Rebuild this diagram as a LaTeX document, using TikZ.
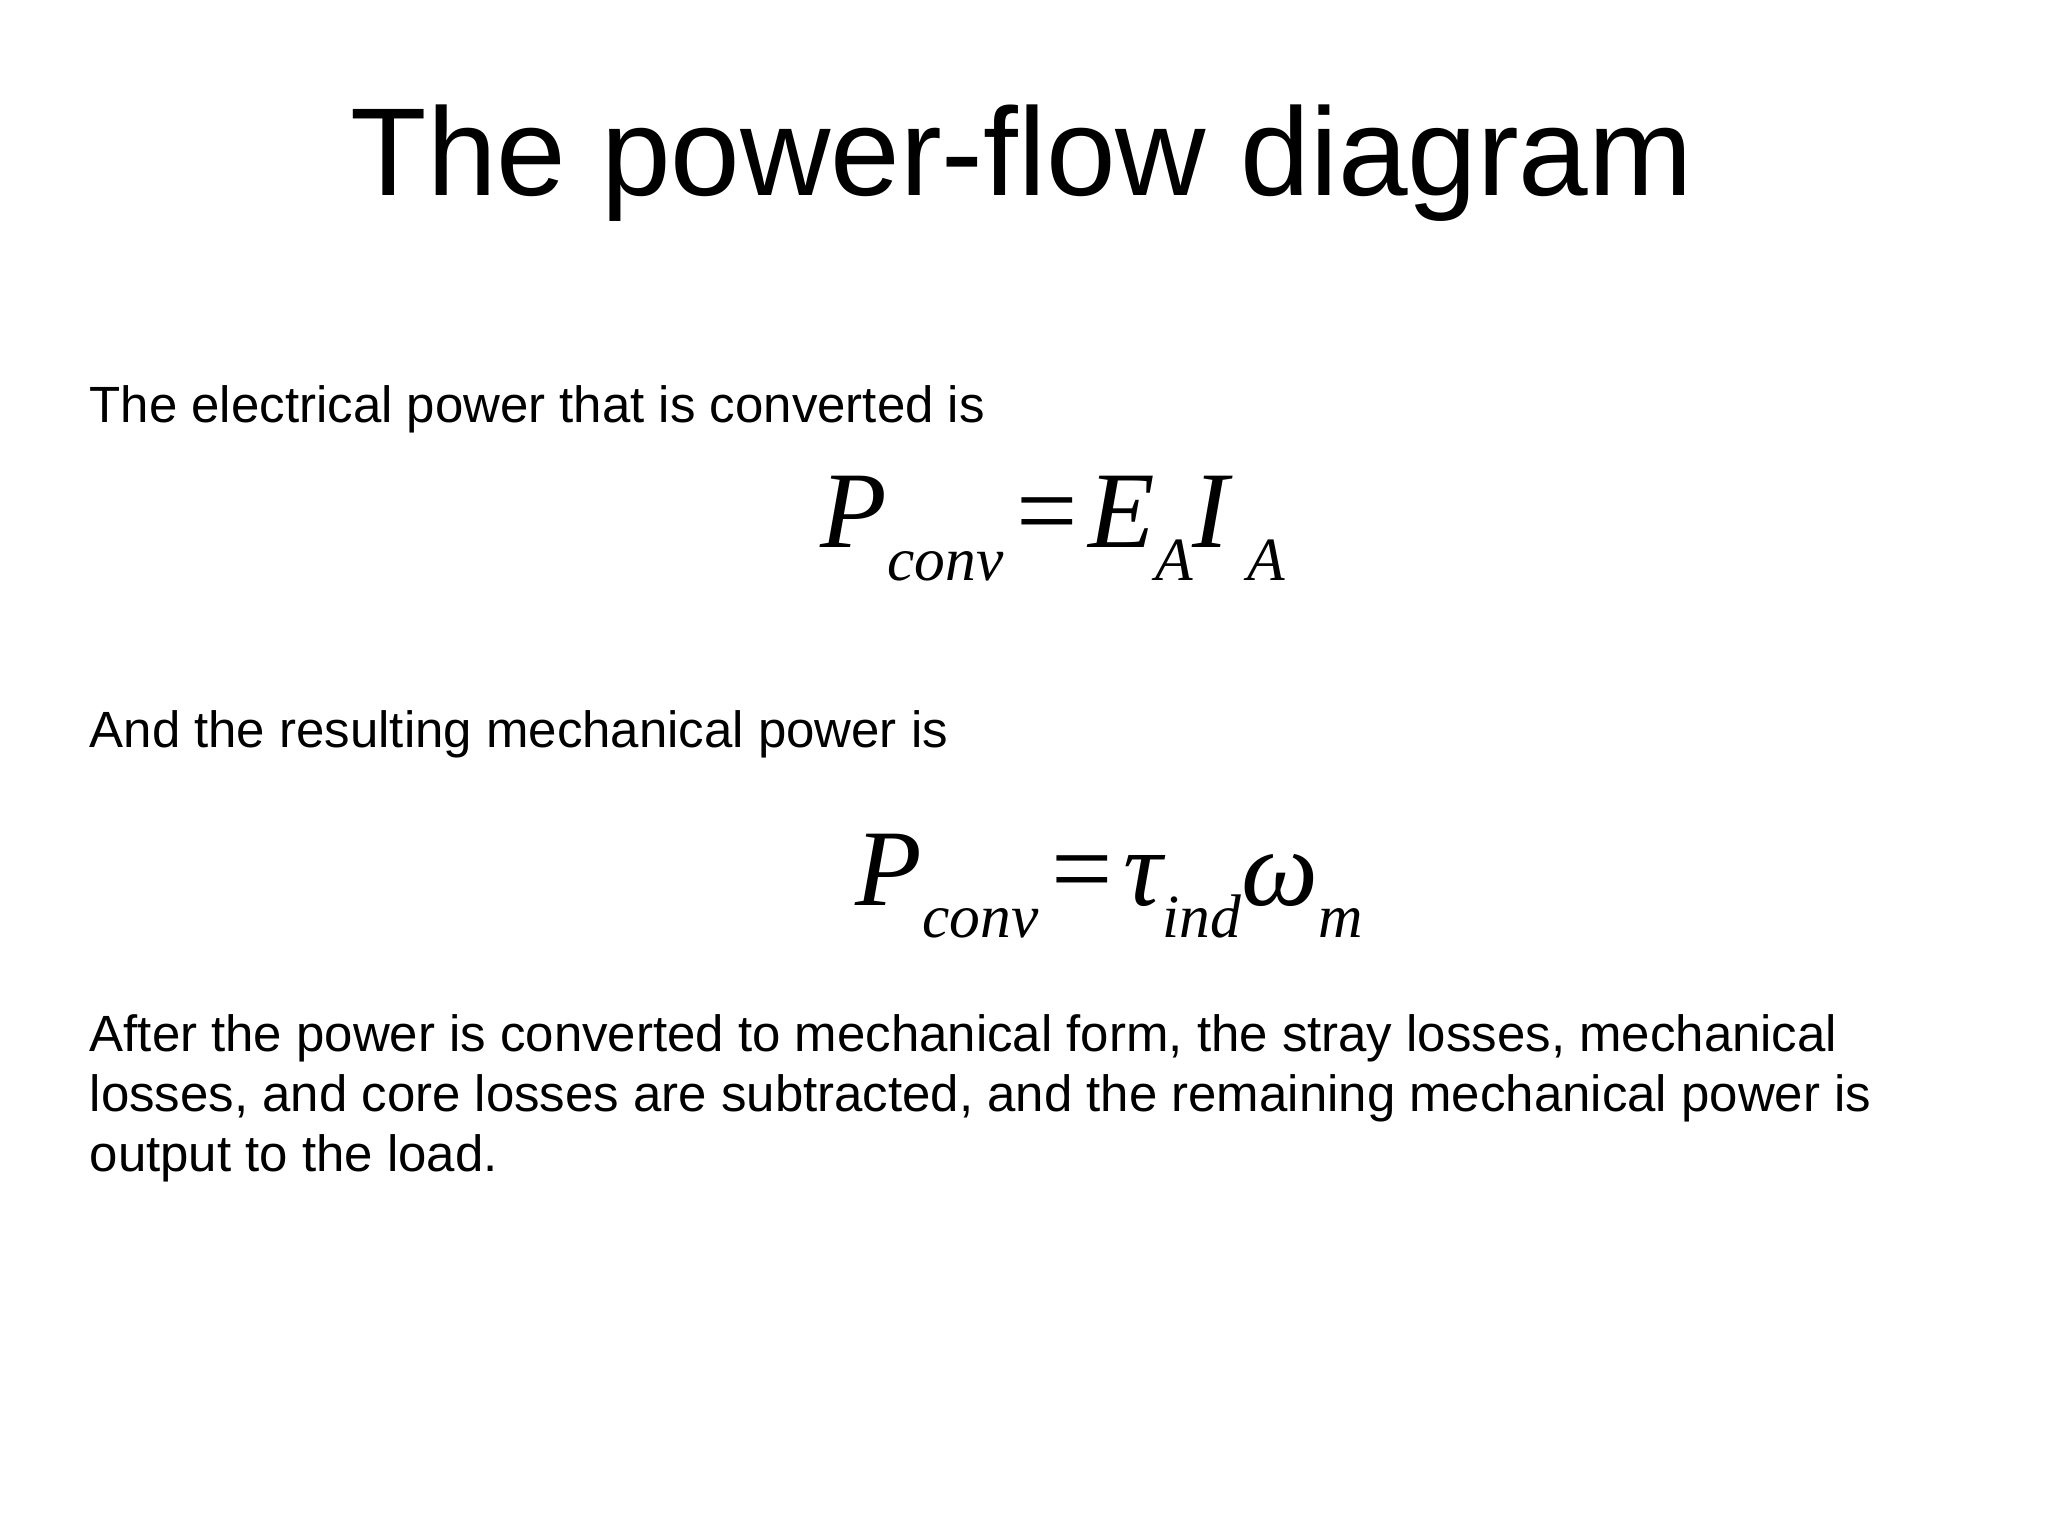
\documentclass[tikz,border=0pt]{standalone}
\usepackage{fontspec}
\setmainfont{Liberation Sans}
\newfontfamily\eqfont{Liberation Serif}
\newcommand{\sbx}[1]{\raisebox{-0.3em}{\fontsize{17.5}{20}\selectfont\itshape #1}}
\tikzset{txt/.style={anchor=base west,inner sep=0pt,font=\fontsize{14.5}{17.1}\selectfont},
eq/.style={anchor=base west,inner sep=0pt,font=\eqfont\fontsize{31}{34}\selectfont}}
\begin{document}
\begin{tikzpicture}
\useasboundingbox[fill=white] (0,0) rectangle (20.48,-15.36);
\node[anchor=base,inner sep=0pt,font=\fontsize{35.6}{40}\selectfont] (title) at (10.22,-1.96) {The power-flow diagram};
\node[txt] (l1) at (0.89,-4.22) {The electrical power that is converted is};
\node[eq] (e1) at (8.20,-5.48) {\itshape P\sbx{conv}\hspace{0.12em}\upshape{=}\hspace{0.1em}\itshape E\sbx{A}I\,\sbx{A}};
\node[txt] (l2) at (0.89,-7.47) {And the resulting mechanical power is};
\node[eq] (e2) at (8.55,-9.05) {\itshape P\sbx{conv}\hspace{0.12em}\upshape{=}\hspace{0.1em}\itshape τ\sbx{ind}ω\sbx{m}};
\node[txt] (p1) at (0.89,-10.51) {After the power is converted to mechanical form, the stray losses, mechanical};
\node[txt] (p2) at (0.89,-11.11) {losses, and core losses are subtracted, and the remaining mechanical power is};
\node[txt] (p3) at (0.89,-11.71) {output to the load.};
\end{tikzpicture}
\end{document}
